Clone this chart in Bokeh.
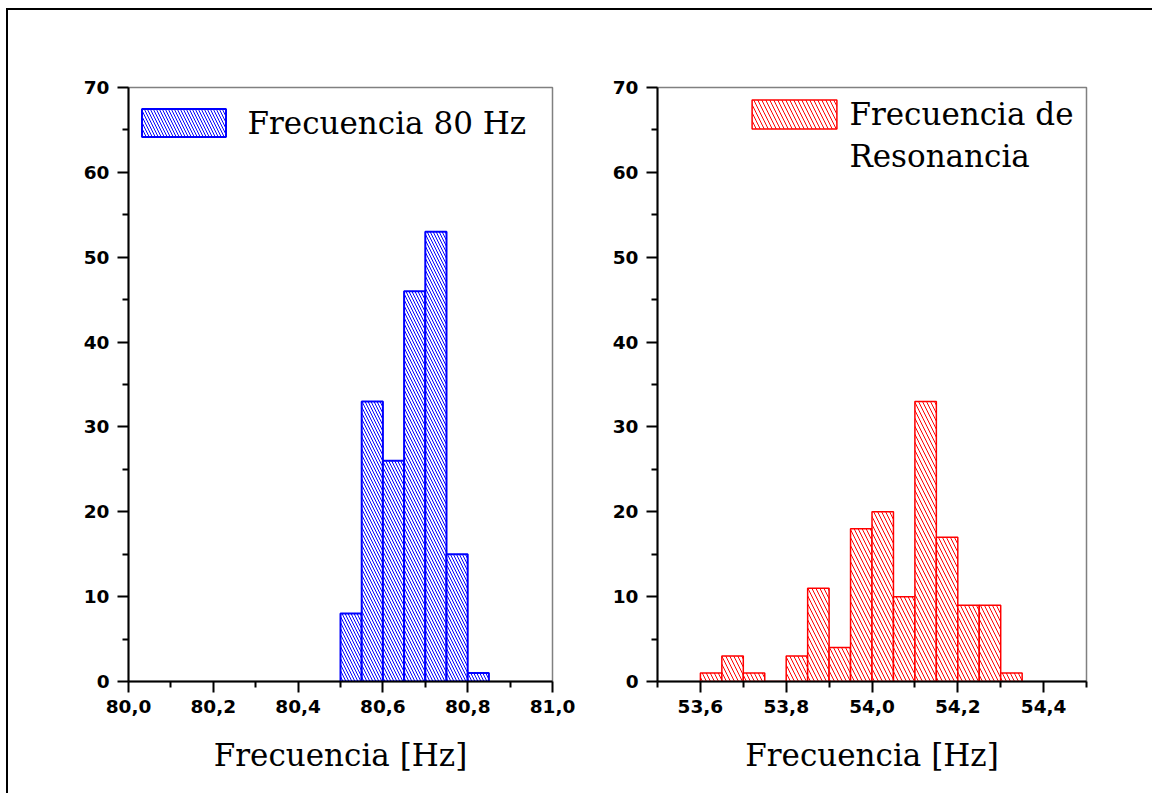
from bokeh.plotting import figure
from bokeh.layouts import row
from bokeh.models import (Range1d, FixedTicker, CustomJSTickFormatter, Legend,
                          LegendItem, ColumnDataSource)
from bokeh.embed import file_html
from bokeh.resources import INLINE

# ---- data ----
bin_width = 0.05
left_bins = [80.50, 80.55, 80.60, 80.65, 80.70, 80.75, 80.80]
left_counts = [8, 33, 26, 46, 53, 15, 1]

right_bins = [53.60, 53.65, 53.70, 53.75, 53.80, 53.85, 53.90, 53.95,
              54.00, 54.05, 54.10, 54.15, 54.20, 54.25, 54.30]
right_counts = [1, 3, 1, 0, 3, 11, 4, 18, 20, 10, 33, 17, 9, 9, 1]

y_ticks = [0, 10, 20, 30, 40, 50, 60, 70]
y_minor = [5, 15, 25, 35, 45, 55, 65]
left_xticks = [80.0, 80.2, 80.4, 80.6, 80.8, 81.0]
left_xminor = [80.1, 80.3, 80.5, 80.7, 80.9]
right_xticks = [53.6, 53.8, 54.0, 54.2, 54.4]
right_xminor = [53.5, 53.7, 53.9, 54.1, 54.3, 54.5]

left_label = "Frecuencia 80 Hz"
right_label_lines = ["Frecuencia de", "Resonancia"]
x_title = "Frecuencia [Hz]"

FRAME_H = 594


def make_fig(xr, xticks, xminor, fw, mbl, mbr):
    p = figure(frame_width=fw, frame_height=FRAME_H,
               min_border_left=mbl, min_border_right=mbr,
               min_border_top=77, min_border_bottom=112,
               x_range=Range1d(*xr), y_range=Range1d(0, 70),
               output_backend="svg", toolbar_location=None)
    p.grid.visible = False
    p.outline_line_color = "#808080"
    p.outline_line_width = 1.5
    p.background_fill_color = "white"
    p.border_fill_color = "white"
    p.xaxis.ticker = FixedTicker(ticks=xticks, minor_ticks=xminor)
    p.yaxis.ticker = FixedTicker(ticks=y_ticks, minor_ticks=y_minor)
    p.xaxis.formatter = CustomJSTickFormatter(
        code="return tick.toFixed(1).replace('.', ',');")
    for ax in (p.xaxis, p.yaxis):
        ax.axis_line_width = 2
        ax.axis_line_color = "black"
        ax.major_tick_line_width = 2
        ax.minor_tick_line_width = 2
        ax.major_tick_out = 11
        ax.major_tick_in = 0
        ax.minor_tick_out = 6
        ax.minor_tick_in = 0
        ax.major_label_text_font = "DejaVu Sans"
        ax.major_label_text_font_style = "bold"
        ax.major_label_text_font_size = "18.5px"
        ax.major_label_text_color = "black"
    p.xaxis.major_label_standoff = 7
    p.yaxis.major_label_standoff = 8
    p.xaxis.axis_label = x_title
    p.xaxis.axis_label_text_font = "DejaVu Serif"
    p.xaxis.axis_label_text_font_style = "normal"
    p.xaxis.axis_label_text_font_size = "31px"
    p.xaxis.axis_label_standoff = 21
    p.xaxis.axis_label_text_color = "black"
    return p


def bars(p, bins, counts, color, scale, lw):
    src = ColumnDataSource(dict(
        left=bins,
        right=[b + bin_width for b in bins],
        top=counts,
        bottom=[0] * len(bins)))
    r = p.quad(left="left", right="right", top="top", bottom="bottom",
               source=src, fill_color="white", line_color=color,
               line_width=lw, hatch_pattern="\\", hatch_color=color,
               hatch_scale=scale, hatch_weight=1)
    return r


p1 = make_fig((80.0, 81.0), left_xticks, left_xminor, 424, 120, 36)
r1 = bars(p1, left_bins, left_counts, "blue", 6, 2)
leg1 = Legend(items=[LegendItem(label=left_label, renderers=[r1])],
              location=(2.5, 540.5), padding=0, margin=0,
              border_line_color=None, background_fill_alpha=0,
              glyph_width=105, glyph_height=35, label_standoff=12,
              label_text_font="DejaVu Serif", label_text_font_size="31px",
              label_text_color="black")
p1.add_layout(leg1)

p2 = make_fig((53.5, 54.5), right_xticks, right_xminor, 429, 69, 66)
r2 = bars(p2, right_bins, right_counts, "red", 8, 1.5)
# invisible renderer carrying only the second line of the legend label
r2b = p2.quad(left=[], right=[], top=[], bottom=[],
              fill_alpha=0, line_alpha=0)
leg2 = Legend(items=[LegendItem(label=right_label_lines[0], renderers=[r2]),
                     LegendItem(label=right_label_lines[1], renderers=[r2b])],
              location=(84.4, 506.6), padding=0, margin=0, spacing=6,
              border_line_color=None, background_fill_alpha=0,
              glyph_width=106, glyph_height=36, label_standoff=2,
              label_text_font="DejaVu Serif", label_text_font_size="31px",
              label_text_color="black")
p2.add_layout(leg2)

layout = row(p1, p2, margin=(8, 0, 0, 6),
             styles={"border-left": "2px solid black",
                     "border-top": "2px solid black"})

open("out.html", "w").write(file_html(layout, INLINE))
